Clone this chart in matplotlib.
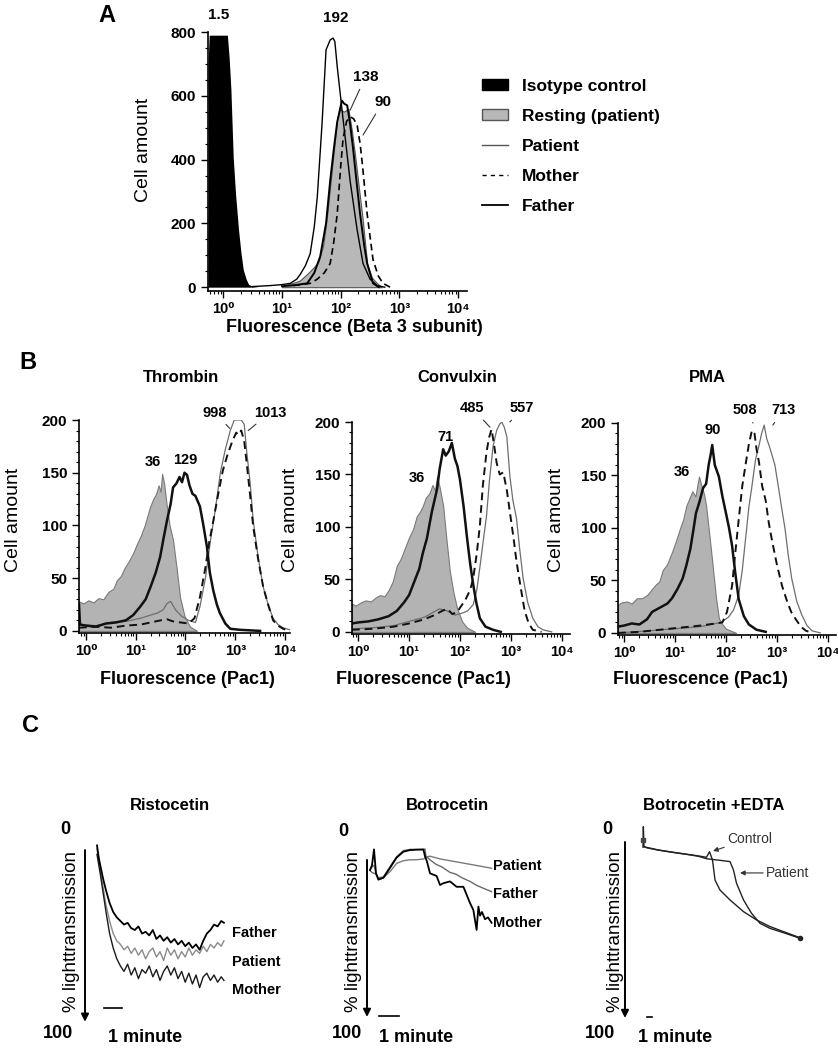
import numpy as np
import matplotlib
matplotlib.use('Agg')
import matplotlib.pyplot as plt
from matplotlib.patches import Patch
from matplotlib.lines import Line2D
from matplotlib.ticker import MultipleLocator, LogLocator, NullFormatter

plt.rcParams['font.family'] = ['Liberation Sans', 'DejaVu Sans']
plt.rcParams['font.weight'] = 'bold'

# ---------------- data: panel A (log10 fluorescence, cell count) ----------------
iso_x = [-0.26, -0.24, -0.2, -0.1, 0.0, 0.07, 0.1, 0.13, 0.17, 0.21, 0.26, 0.3, 0.34, 0.39, 0.43, 0.5, 0.6]
iso_y = [690, 790, 790, 790, 790, 790, 720, 620, 405, 290, 180, 110, 55, 25, 9, 2, 0]
a_pat_x = [0.5, 0.8, 1.0, 1.14, 1.25, 1.31, 1.4, 1.48, 1.55, 1.6, 1.68, 1.75, 1.82, 1.87, 1.9, 1.94, 2.02, 2.1, 2.16, 2.28, 2.38, 2.5, 2.62, 2.75]
a_pat_y = [2, 5, 8, 12, 25, 40, 68, 105, 190, 281, 507, 744, 775, 781, 770, 692, 559, 430, 333, 179, 74, 25, 5, 0]
a_fat_x = [1.0, 1.2, 1.43, 1.55, 1.65, 1.75, 1.82, 1.88, 1.94, 2.02, 2.06, 2.11, 2.16, 2.21, 2.27, 2.33, 2.4, 2.45, 2.55, 2.65]
a_fat_y = [3, 6, 12, 45, 96, 200, 333, 430, 518, 585, 575, 570, 510, 435, 330, 229, 130, 74, 12, 0]
a_rest_x = [1.0, 1.3, 1.45, 1.53, 1.62, 1.7, 1.77, 1.85, 1.94, 1.99, 2.05, 2.13, 2.19, 2.25, 2.31, 2.37, 2.45, 2.53, 2.62, 2.7]
a_rest_y = [3, 20, 45, 60, 80, 130, 229, 370, 528, 559, 550, 559, 490, 405, 310, 219, 74, 30, 12, 0]
a_mot_x = [1.2, 1.48, 1.6, 1.72, 1.82, 1.88, 1.94, 2.0, 2.04, 2.1, 2.16, 2.22, 2.28, 2.33, 2.37, 2.45, 2.55, 2.64, 2.72, 2.84]
a_mot_y = [5, 12, 25, 45, 74, 140, 229, 380, 466, 520, 534, 528, 507, 450, 383, 229, 86, 35, 12, 0]

# ---------------- data: panel B ----------------
thr_rest_x = [-0.14, -0.05, 0.05, 0.15, 0.25, 0.35, 0.45, 0.55, 0.62, 0.7, 0.78, 0.86, 0.95, 1.02, 1.1, 1.18, 1.24, 1.29, 1.35, 1.41,
              1.46, 1.5, 1.53, 1.57, 1.62, 1.68, 1.75, 1.82, 1.89, 1.98, 2.09, 2.23]
thr_rest_y = [28, 26, 29, 27, 31, 30, 37, 40, 48, 52, 60, 66, 74, 82, 90, 100, 110, 118, 125, 130,
              138, 132, 149, 140, 120, 100, 86, 60, 32, 14, 4, 0]
thr_thick_x = [-0.14, -0.12, 0.0, 0.2, 0.4, 0.6, 0.8, 0.95, 1.09, 1.2, 1.3, 1.4, 1.49, 1.56, 1.63, 1.7, 1.75, 1.82, 1.88, 1.93,
               1.98, 2.03, 2.08, 2.14, 2.2, 2.29, 2.36, 2.43, 2.49, 2.56, 2.63, 2.69, 2.8, 2.9, 3.1, 3.5]
thr_thick_y = [25, 6, 5, 4, 7, 8, 10, 15, 23, 30, 42, 55, 70, 88, 105, 120, 136, 140, 146, 141,
               150, 148, 138, 130, 128, 118, 100, 80, 55, 38, 25, 17, 7, 2, 1, 0]
thr_thin_x = [-0.14, 0.2, 0.5, 0.8, 1.1, 1.3, 1.44, 1.55, 1.63, 1.7, 1.8, 1.92, 2.06, 2.2, 2.29, 2.4, 2.5, 2.6, 2.7, 2.8,
              2.9, 2.98, 3.04, 3.12, 3.18, 3.23, 3.3, 3.36, 3.46, 3.56, 3.66, 3.76, 3.86, 3.96, 4.1]
thr_thin_y = [6, 5, 8, 9, 12, 15, 17, 20, 26, 28, 20, 14, 10, 8, 23, 50, 85, 115, 150, 172,
              190, 200, 200, 200, 196, 170, 140, 105, 70, 42, 25, 12, 6, 3, 1]
thr_dash_x = [-0.14, 0.2, 0.5, 0.8, 1.1, 1.3, 1.5, 1.63, 1.75, 1.9, 2.06, 2.18, 2.29, 2.4, 2.48, 2.55, 2.65, 2.75, 2.85, 2.95,
              3.02, 3.06, 3.12, 3.18, 3.23, 3.3, 3.36, 3.46, 3.56, 3.66, 3.76, 3.86, 3.96, 4.1]
thr_dash_y = [3, 4, 3, 5, 6, 8, 10, 11, 9, 8, 7, 12, 32, 60, 85, 102, 128, 152, 168, 181,
              188, 186, 190, 180, 159, 128, 99, 68, 42, 25, 10, 5, 2, 0]

con_rest_x = [-0.12, -0.05, 0.05, 0.15, 0.25, 0.35, 0.43, 0.52, 0.6, 0.68, 0.76, 0.84, 0.92, 1.0, 1.08, 1.15, 1.22, 1.27, 1.33, 1.4,
              1.46, 1.51, 1.55, 1.6, 1.67, 1.73, 1.8, 1.87, 1.94, 2.04, 2.14, 2.3]
con_rest_y = [27, 25, 28, 30, 29, 33, 35, 34, 40, 48, 63, 70, 80, 90, 98, 110, 115, 120, 128, 132,
              140, 135, 148, 138, 120, 90, 58, 38, 23, 10, 4, 0]
con_thick_x = [-0.12, 0.0, 0.2, 0.4, 0.6, 0.76, 0.9, 1.0, 1.08, 1.2, 1.27, 1.35, 1.45, 1.55, 1.6, 1.67, 1.72, 1.78, 1.84, 1.9,
               1.95, 2.0, 2.07, 2.14, 2.2, 2.26, 2.32, 2.39, 2.5, 2.65, 2.8]
con_thick_y = [8, 9, 10, 12, 15, 20, 28, 35, 45, 60, 75, 89, 115, 136, 155, 174, 168, 172, 180, 165,
               158, 145, 120, 89, 65, 45, 28, 13, 5, 2, 0]
con_dash_x = [-0.12, 0.3, 0.7, 1.0, 1.3, 1.5, 1.65, 1.75, 1.85, 1.95, 2.0, 2.1, 2.2, 2.26, 2.33, 2.39, 2.45, 2.52, 2.57, 2.62,
              2.67, 2.72, 2.78, 2.85, 2.92, 2.98, 3.05, 3.11, 3.2, 3.27, 3.35, 3.43, 3.6]
con_dash_y = [2, 3, 5, 8, 12, 16, 20, 22, 17, 19, 23, 30, 40, 51, 75, 101, 140, 171, 185, 193,
              178, 161, 150, 152, 135, 114, 90, 67, 40, 20, 8, 2, 0]
con_thin_x = [-0.12, 0.3, 0.7, 1.0, 1.3, 1.45, 1.6, 1.75, 1.9, 2.05, 2.15, 2.26, 2.33, 2.4, 2.46, 2.52, 2.58, 2.65, 2.72, 2.78,
              2.82, 2.87, 2.92, 2.98, 3.04, 3.11, 3.17, 3.24, 3.33, 3.43, 3.53, 3.63, 3.8]
con_thin_y = [3, 4, 6, 10, 14, 18, 22, 20, 16, 18, 20, 26, 40, 65, 88, 110, 145, 177, 192, 198,
              200, 195, 186, 148, 125, 108, 80, 51, 28, 13, 5, 2, 0]

pma_rest_x = [-0.12, -0.05, 0.05, 0.15, 0.25, 0.35, 0.45, 0.55, 0.62, 0.69, 0.76, 0.84, 0.94, 1.02, 1.1, 1.16, 1.22, 1.28, 1.34, 1.4,
              1.47, 1.52, 1.57, 1.61, 1.67, 1.73, 1.8, 1.86, 1.93, 2.0, 2.1, 2.2]
pma_rest_y = [27, 29, 30, 28, 33, 33, 36, 42, 46, 49, 60, 65, 77, 88, 100, 108, 121, 128, 135, 130,
              149, 140, 132, 121, 95, 68, 35, 14, 8, 4, 2, 0]
pma_thick_x = [-0.12, 0.0, 0.15, 0.3, 0.45, 0.55, 0.7, 0.85, 0.94, 1.05, 1.15, 1.22, 1.3, 1.36, 1.41, 1.48, 1.55, 1.61, 1.66, 1.7,
               1.73, 1.78, 1.86, 1.93, 2.0, 2.06, 2.12, 2.18, 2.25, 2.35, 2.45, 2.6, 2.78]
pma_thick_y = [6, 7, 9, 8, 13, 20, 24, 28, 33, 42, 52, 64, 80, 98, 114, 125, 138, 142, 160, 170,
               179, 160, 149, 130, 114, 100, 83, 58, 32, 16, 8, 3, 1]
pma_dash_x = [-0.12, 0.3, 0.7, 1.1, 1.5, 1.8, 1.93, 2.02, 2.12, 2.18, 2.25, 2.32, 2.39, 2.45, 2.51, 2.56, 2.6, 2.65, 2.71, 2.78,
              2.84, 2.9, 3.0, 3.1, 3.2, 3.28, 3.37, 3.47, 3.57, 3.7]
pma_dash_y = [0, 1, 3, 5, 7, 9, 10, 20, 45, 75, 108, 140, 162, 180, 193, 190, 175, 162, 140, 126,
              105, 89, 65, 45, 30, 20, 13, 6, 2, 0]
pma_thin_x = [-0.12, 0.5, 1.0, 1.5, 1.9, 2.05, 2.15, 2.25, 2.32, 2.39, 2.45, 2.51, 2.58, 2.65, 2.7, 2.75, 2.8, 2.85, 2.9, 2.96,
              3.02, 3.09, 3.16, 3.22, 3.29, 3.39, 3.49, 3.59, 3.69, 3.85]
pma_thin_y = [0, 2, 4, 6, 10, 15, 22, 36, 60, 92, 120, 140, 165, 179, 190, 198, 185, 178, 170, 160,
              142, 120, 99, 75, 52, 30, 17, 7, 2, 0]

# ---------------- data: panel C (minutes, % light transmission) ----------------
ris_t = [0, 0.1, 0.2, 0.35, 0.5, 0.7, 0.9, 1.1, 1.3, 1.5, 1.7, 1.9, 2.1, 2.3, 2.5, 2.7, 2.9, 3.1, 3.3, 3.5,
         3.7, 3.9, 4.1, 4.3, 4.5, 4.7, 4.9, 5.1, 5.3, 5.5, 5.7, 5.9, 6.1, 6.3, 6.5, 6.7, 6.9, 7.05]
ris_father = [3, 10, 15, 22, 28, 35, 40, 43, 45, 47, 46, 49, 50, 48, 52, 51, 53, 50, 55, 53,
              56, 54, 57, 55, 58, 56, 59, 57, 60, 58, 61, 56, 52, 50, 47, 48, 45, 46]
ris_patient = [5, 12, 18, 27, 36, 45, 52, 56, 58, 61, 59, 63, 60, 64, 61, 66, 62, 60, 65, 62,
               67, 60, 64, 61, 66, 62, 65, 60, 64, 61, 63, 59, 62, 58, 60, 57, 59, 56]
ris_mother = [8, 14, 20, 30, 40, 52, 60, 66, 70, 73, 69, 75, 71, 77, 72, 74, 70, 76, 72, 78,
              73, 70, 75, 71, 77, 73, 79, 74, 80, 75, 82, 76, 74, 78, 75, 79, 76, 78]

bot_pat_t = [0, 0.1, 0.2, 0.3, 0.42, 0.67, 1.0, 1.33, 1.67, 2.0, 2.3, 2.7, 2.75, 3.0, 3.5, 4.0, 4.5, 5.0, 5.5, 6.08]
bot_pat_v = [16.7, 15, 14, 18.5, 22, 21, 17.6, 13, 11.5, 11, 11, 10.5, 9.5, 9, 10.5, 11.5, 12.5, 13.5, 14.5, 15.7]
bot_fat_t = [0, 0.1, 0.3, 0.42, 0.67, 1.0, 1.33, 1.67, 2.0, 2.33, 2.67, 2.75, 2.8, 3.0, 3.3, 3.6, 4.0, 4.3, 4.6, 5.0, 5.3, 5.6, 6.08]
bot_fat_v = [17, 18, 19, 21, 20.5, 14.8, 9.3, 5.9, 5.2, 5.2, 5.2, 5.0, 9, 11, 13.5, 15, 18, 19, 21, 23, 25, 26.5, 28.7]
bot_mot_t = [0, 0.1, 0.2, 0.3, 0.42, 0.67, 1.0, 1.33, 1.67, 2.0, 2.33, 2.67, 2.75, 2.85, 3.0, 3.33, 3.5, 3.67, 4.0, 4.33,
             4.67, 5.0, 5.17, 5.33, 5.42, 5.5, 5.6, 5.75, 5.9, 6.08]
bot_mot_v = [16.7, 14, 5.2, 18.5, 22, 21, 15.5, 9.8, 6.5, 5.6, 5.4, 5.3, 9, 12, 18.5, 20, 25, 24, 23, 26,
             26, 35, 39, 50, 37, 42, 40, 44, 43, 46]

edta_ctl_t = [0.0, 0.07, 0.2, 0.73, 3, 6, 9, 11, 12.7, 13.3, 13.9, 14.4, 15.4, 17.4, 20.1, 22.7, 25.4, 28.1, 31.4]
edta_ctl_v = [4, -7.4, 3.7, 4.1, 5.5, 6.8, 8.0, 8.8, 9.6, 6.5, 11.1, 22.2, 27.8, 33.3, 39.8, 44.4, 48.1, 50.9, 54.3]
edta_pat_t = [0.2, 0.73, 3, 6, 9, 11, 12.7, 14.5, 16, 17.4, 18.1, 18.7, 20.1, 21.7, 23.4, 25.4, 28.1, 31.4]
edta_pat_v = [3.7, 4.3, 5.6, 6.9, 8.1, 9.0, 10.4, 11.0, 11.5, 12, 16.7, 24, 33.3, 40.7, 46.3, 49.1, 51.5, 54.6]

W, H = 838, 1050
fig = plt.figure(figsize=(W / 100, H / 100), dpi=100)


def box(l, t, r, b):
    # axes placed by pixel edges of the reference
    return fig.add_axes([l / W, 1 - b / H, (r - l) / W, (b - t) / H])


def put(x, y, s, **kw):
    kw.setdefault('ha', 'center')
    kw.setdefault('va', 'center')
    fig.text(x / W, 1 - y / H, s, **kw)


def e(v):
    return 10 ** np.array(v)


def flow_axes(ax, lo, hi, ymin, ymax, ystep, yminor):
    ax.set_xscale('log')
    ax.set_xlim(10 ** lo, 10 ** hi)
    ax.set_ylim(ymin, ymax)
    ax.set_xticks([1, 10, 100, 1000, 10000])
    ax.set_xticklabels(['10⁰', '10¹', '10²', '10³', '10⁴'])
    ax.xaxis.set_minor_locator(LogLocator(base=10, subs=np.arange(2, 10), numticks=20))
    ax.xaxis.set_minor_formatter(NullFormatter())
    ax.set_yticks(np.arange(0, ymax + 1, ystep))
    ax.yaxis.set_minor_locator(MultipleLocator(yminor))
    for s in ['top', 'right']:
        ax.spines[s].set_visible(False)
    for s in ['left', 'bottom']:
        ax.spines[s].set_linewidth(1.2)
    ax.tick_params(which='major', length=5, width=1, direction='out', labelsize=11)
    ax.tick_params(which='minor', length=2.5, width=0.8, direction='out')
    ax.tick_params(axis='x', labelsize=10.5, pad=3)


# ---------------- panel A ----------------
axA = box(208, 32, 467, 291)
flow_axes(axA, -0.26, 4.15, -12, 800, 200, 50)
axA.fill_between(e(iso_x), iso_y, 0, color='black', lw=0)
axA.fill_between(e(a_rest_x), a_rest_y, 0, facecolor='#b8b8b8', edgecolor='#555555', lw=0.8)
axA.plot(e(a_pat_x), a_pat_y, color='black', lw=1.0)
axA.plot(e(a_fat_x), a_fat_y, color='black', lw=1.4)
axA.plot(e(a_mot_x), a_mot_y, color='black', lw=1.2, ls=(0, (4, 2.5)))
axA.text(10 ** -0.085, 853, '1.5', ha='center', va='center', fontsize=11)
axA.text(10 ** 1.91, 844, '192', ha='center', va='center', fontsize=11)
axA.annotate('138', xy=(10 ** 2.16, 555), xytext=(10 ** 2.42, 659), ha='center', va='center', fontsize=11,
             arrowprops=dict(arrowstyle='-', lw=0.8, color='#333', shrinkA=2, shrinkB=0))
axA.annotate('90', xy=(10 ** 2.38, 477), xytext=(10 ** 2.72, 581), ha='center', va='center', fontsize=11,
             arrowprops=dict(arrowstyle='-', lw=0.8, color='#333', shrinkA=2, shrinkB=0))
put(107, 15, 'A', fontsize=17)
put(143, 150, 'Cell amount', rotation=90, fontsize=14, fontweight='normal')
put(354, 328, 'Fluorescence (Beta 3 subunit)', fontsize=13)

handles = [Patch(facecolor='black', edgecolor='black'),
           Patch(facecolor='#b8b8b8', edgecolor='#555555'),
           Line2D([], [], color='#555555', lw=1.0),
           Line2D([], [], color='black', lw=1.0, ls=(0, (3, 3))),
           Line2D([], [], color='black', lw=1.3)]
labels = ['Isotype control', 'Resting (patient)', 'Patient', 'Mother', 'Father']
fig.legend(handles, labels, loc='upper left', bbox_to_anchor=(482 / W, 1 - 79 / H), frameon=False,
           fontsize=12.5, handlelength=1.5, handleheight=0.6, handletextpad=0.8, labelspacing=0.86,
           borderpad=0, borderaxespad=0)

# ---------------- panel B ----------------
put(28, 362, 'B', fontsize=17)
b_panels = [
    ('Thrombin', (79, 420, 290, 633), -0.14, 4.1, 181, 13, 187,
     (thr_rest_x, thr_rest_y), (thr_thick_x, thr_thick_y), (thr_thin_x, thr_thin_y), (thr_dash_x, thr_dash_y),
     [('36', None, (1.35, 160)), ('129', None, (1.99, 162)),
      ('998', (2.89, 192), (2.59, 207)), ('1013', (3.26, 190), (3.70, 207))]),
    ('Convulxin', (352, 422, 570, 634), -0.12, 4.16, 457, 290, 423,
     (con_rest_x, con_rest_y), (con_thick_x, con_thick_y), (con_thin_x, con_thin_y), (con_dash_x, con_dash_y),
     [('36', None, (1.16, 147)), ('71', None, (1.71, 186)),
      ('485', (2.59, 195), (2.24, 213)), ('557', (2.98, 200), (3.22, 213))]),
    ('PMA', (618, 423, 836, 635), -0.12, 4.16, 707, 556, 700,
     (pma_rest_x, pma_rest_y), (pma_thick_x, pma_thick_y), (pma_thin_x, pma_thin_y), (pma_dash_x, pma_dash_y),
     [('36', None, (1.14, 153)), ('90', None, (1.73, 193)),
      ('508', (2.53, 200), (2.37, 212)), ('713', (2.92, 198), (3.12, 212))]),
]
for title, (l, t, r, b), lo, hi, tx, ylx, xlx, rest, thick, thin, dash, notes in b_panels:
    ax = box(l, t, r, b)
    flow_axes(ax, lo, hi, -2, 200, 50, 10)
    ax.fill_between(e(rest[0]), rest[1], 0, facecolor='#b3b3b3', edgecolor='#7a7a7a', lw=0.8)
    ax.plot(e(thin[0]), thin[1], color='#6e6e6e', lw=0.9)
    ax.plot(e(dash[0]), dash[1], color='#111111', lw=1.4, ls=(0, (4, 2.5)))
    ax.plot(e(thick[0]), thick[1], color='#111111', lw=1.8)
    for s, xy, xt in notes:
        if xy is None:
            ax.text(10 ** xt[0], xt[1], s, ha='center', va='center', fontsize=10.5)
        else:
            ax.annotate(s, xy=(10 ** xy[0], xy[1]), xytext=(10 ** xt[0], xt[1]), ha='center', va='center',
                        fontsize=10.5, annotation_clip=False,
                        arrowprops=dict(arrowstyle='-', lw=0.8, color='#333', shrinkA=2, shrinkB=0))
    put(tx, 377, title, fontsize=12)
    put(ylx, 520, 'Cell amount', rotation=90, fontsize=14, fontweight='normal')
    put(xlx, 679, 'Fluorescence (Pac1)', fontsize=13)

# ---------------- panel C ----------------
put(30, 725, 'C', fontsize=17)


def trace_axes(l, r, xlo, xhi):
    ax = box(l, 840, r, 1020)
    ax.set_xlim(xlo, xhi)
    ax.set_ylim(100, 0)
    ax.axis('off')
    return ax


def c_frame(ax, xl, top, bottom, bar0, barlen, bary, title, tx, zero_xy, hund_xy, ylx, mx):
    ax.annotate('', xy=(xl, bottom), xytext=(xl, top), annotation_clip=False,
                arrowprops=dict(arrowstyle='-|>', lw=1.4, color='black', mutation_scale=11, shrinkA=0, shrinkB=0))
    ax.plot([bar0, bar0 + barlen], [bary, bary], color='black', lw=1.2, clip_on=False)
    put(tx, 805, title, fontsize=12)
    put(zero_xy[0], zero_xy[1], '0', fontsize=13)
    put(hund_xy[0], hund_xy[1], '100', fontsize=13)
    put(ylx, 932, '% lighttransmission', rotation=90, fontsize=13.5, fontweight='normal')
    put(mx, 1037, '1 minute', fontsize=13)


axR = trace_axes(85, 290, -0.667, 10.72)
axR.plot(ris_t, ris_patient, color='#8a8a8a', lw=1.0)
axR.plot(ris_t, ris_mother, color='#1a1a1a', lw=1.0)
axR.plot(ris_t, ris_father, color='black', lw=1.3)
axR.text(7.5, 51.7, 'Father', fontsize=10.5, va='center')
axR.text(7.5, 67.8, 'Patient', fontsize=10.5, va='center')
axR.text(7.5, 83.3, 'Mother', fontsize=10.5, va='center')
c_frame(axR, -0.667, 5.6, 101, 0.39, 1.0, 93.3, 'Ristocetin', 170, (65, 830), (58, 1033), 72, 145)

axBo = trace_axes(367, 560, -0.15, 9.5)
axBo.plot(bot_pat_t, bot_pat_v, color='#7a7a7a', lw=1.0)
axBo.plot(bot_fat_t, bot_fat_v, color='#6a6a6a', lw=1.0)
axBo.plot(bot_mot_t, bot_mot_v, color='black', lw=1.3)
axBo.text(6.15, 14.4, 'Patient', fontsize=10.5, va='center')
axBo.text(6.15, 30, 'Father', fontsize=10.5, va='center')
axBo.text(6.15, 46, 'Mother', fontsize=10.5, va='center')
c_frame(axBo, -0.15, 11.1, 98.3, 0.45, 1.0, 97.8, 'Botrocetin', 447, (343, 832), (347, 1033), 353, 416)

axE = trace_axes(625, 830, -3.6, 37.4)
axE.plot(edta_ctl_t, edta_ctl_v, color='#222222', lw=1.0, clip_on=False)
axE.plot(edta_pat_t, edta_pat_v, color='#222222', lw=1.0)
axE.plot(edta_ctl_t[-1], edta_ctl_v[-1], 'o', color='#222222', ms=3)
axE.plot(edta_ctl_t[0], 0, 's', color='#444444', ms=2.5, clip_on=False)
axE.annotate('Control', xy=(14.0, 6.1), xytext=(16.8, -0.5), fontsize=10, fontweight='normal', color='#333',
             ha='left', va='center', annotation_clip=False,
             arrowprops=dict(arrowstyle='-|>', lw=0.8, color='#333', mutation_scale=7, shrinkA=0, shrinkB=0))
axE.annotate('Patient', xy=(19.4, 18.3), xytext=(24.6, 18.3), fontsize=10, fontweight='normal', color='#333',
             ha='left', va='center', annotation_clip=False,
             arrowprops=dict(arrowstyle='-|>', lw=0.8, color='#333', mutation_scale=7, shrinkA=0, shrinkB=0))
c_frame(axE, -3.6, 1.1, 98.9, 0.8, 1.0, 98.3, 'Botrocetin +EDTA', 714, (607, 830), (600, 1033), 615, 675)

plt.savefig('out.png', dpi=100)
